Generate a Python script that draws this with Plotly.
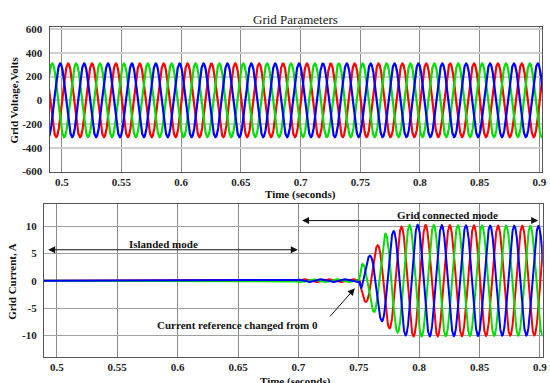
import numpy as np
import plotly.graph_objects as go

# ---- data -------------------------------------------------------------
phase_names = ["Phase A", "Phase B", "Phase C"]
phase_colors = ["#ff0000", "#00e000", "#0000ff"]
# time of a positive peak for each phase (s), 50 Hz grid
phase_peak_time = [0.5053, 0.5120, 0.4987]
grid_freq = 50.0
voltage_peak = [311.0, 311.0, 311.0]

# grid-current envelope (A) versus time (s)
current_env_time = [0.489, 0.7000, 0.7005, 0.7505, 0.752, 0.754, 0.760, 0.763, 0.766,
                    0.769, 0.772, 0.775, 0.779, 0.782, 0.785, 0.789, 0.792, 0.800,
                    0.850, 0.903]
current_env_amp = [0.0, 0.0, 0.25, 0.25, 2.8, 3.6, 4.8, 6.0, 6.6,
                   7.4, 8.6, 8.7, 9.1, 9.5, 9.9, 10.0, 10.2, 10.2,
                   10.1, 10.0]

x_ticks = [0.5, 0.55, 0.6, 0.65, 0.7, 0.75, 0.8, 0.85, 0.9]
x_tick_text = ["0.5", "0.55", "0.6", "0.65", "0.7", "0.75", "0.8", "0.85", "0.9"]
v_ticks = [-600, -400, -200, 0, 200, 400, 600]
v_tick_text = ["-600", "-400", "-200", "0", "200", "400", "600"]
i_ticks = [-10, -5, 0, 5, 10]
i_tick_text = ["-10", "-5", "0", "5", "10"]

# ---- waveforms --------------------------------------------------------
t = np.arange(0.489, 0.9030, 0.0001)
env = np.interp(t, current_env_time, current_env_amp)

fig = go.Figure()
for name, col, tp, vp in zip(phase_names, phase_colors, phase_peak_time, voltage_peak):
    wave = np.cos(2 * np.pi * grid_freq * (t - tp))
    fig.add_trace(go.Scatter(x=t, y=vp * wave, mode="lines", name=name,
                             line=dict(color=col, width=2.2),
                             xaxis="x", yaxis="y", showlegend=False))
for name, col, tp in zip(phase_names, phase_colors, phase_peak_time):
    wave = np.cos(2 * np.pi * grid_freq * (t - tp))
    fig.add_trace(go.Scatter(x=t, y=env * wave, mode="lines", name=name,
                             line=dict(color=col, width=2.0),
                             xaxis="x2", yaxis="y2", showlegend=False))

W, H = 550, 383
serif = "Liberation Serif, Times New Roman, serif"
tick_font = dict(family=serif, size=11, color="#222", weight="bold")

common_x = dict(tickvals=x_ticks, ticktext=x_tick_text, showgrid=True,
                gridcolor="#8a8a8a", gridwidth=1, showline=True, linecolor="#555",
                linewidth=1, mirror=True, zeroline=False, ticks="",
                tickfont=tick_font, ticklabelstandoff=0, ticklabeloverflow="allow")
common_y = dict(showgrid=True, showline=True, linecolor="#555", linewidth=1,
                mirror=True, zeroline=False, ticks="", tickfont=tick_font,
                ticklabelstandoff=4)

fig.update_layout(
    width=W, height=H, autosize=False,
    margin=dict(l=0, r=0, t=0, b=0),
    paper_bgcolor="white", plot_bgcolor="white",
    xaxis=dict(domain=[50 / W, 547 / W], anchor="y", range=[0.48975, 0.90225], **common_x),
    yaxis=dict(domain=[1 - 172 / H, 1 - 24 / H], anchor="x", range=[-605, 615],
               tickvals=v_ticks, ticktext=v_tick_text, gridcolor="#cfcfcf",
               gridwidth=2, **common_y),
    xaxis2=dict(domain=[44.3 / W, 547.5 / W], anchor="y2", range=[0.4893, 0.9021], **common_x),
    yaxis2=dict(domain=[1 - 361.7 / H, 1 - 205 / H], anchor="x2", range=[-14, 14],
                tickvals=i_ticks, ticktext=i_tick_text, gridcolor="#a0a0a0",
                gridwidth=1, **common_y),
)

bold11 = dict(family=serif, size=11, color="#111", weight="bold")


def paper_text(text, x, y, font, angle=0):
    fig.add_annotation(text=text, x=x / W, y=1 - y / H, xref="paper", yref="paper",
                       xanchor="center", yanchor="middle", showarrow=False,
                       font=font, textangle=angle)


paper_text("Grid Parameters", 298, 16, dict(family=serif, size=13, color="#222"))
paper_text("Time (seconds)", 303, 195, bold11)
paper_text("Time (seconds)", 298, 387, bold11)
paper_text("Grid Voltage,Volts", 14, 98, bold11, angle=-90)
paper_text("Grid Current, A", 12.5, 284, bold11, angle=-90)

# mode annotations on the current plot
def data_text(text, x, y):
    fig.add_annotation(text=text, x=x, y=y, xref="x2", yref="y2", showarrow=False,
                       xanchor="center", yanchor="middle", font=bold11)


data_text("Islanded mode", 0.5884, 6.8)
data_text("Grid connected mode", 0.8238, 12.1)
data_text("Current reference changed from 0", 0.6495, -8.1)


def arrow(x0, y0, x1, y1, both=False):
    fig.add_annotation(text="", x=x1, y=y1, ax=x0, ay=y0, xref="x2", yref="y2",
                       axref="x2", ayref="y2", showarrow=True, arrowhead=2,
                       arrowsize=1.4, arrowwidth=1, arrowcolor="#111",
                       arrowside="end+start" if both else "end", standoff=0,
                       startstandoff=0)


arrow(0.4916, 5.66, 0.6995, 5.66, both=True)
arrow(0.7018, 11.0, 0.8985, 11.0, both=True)
arrow(0.7251, -6.8, 0.7467, -1.4)

fig.write_html("out.html")
